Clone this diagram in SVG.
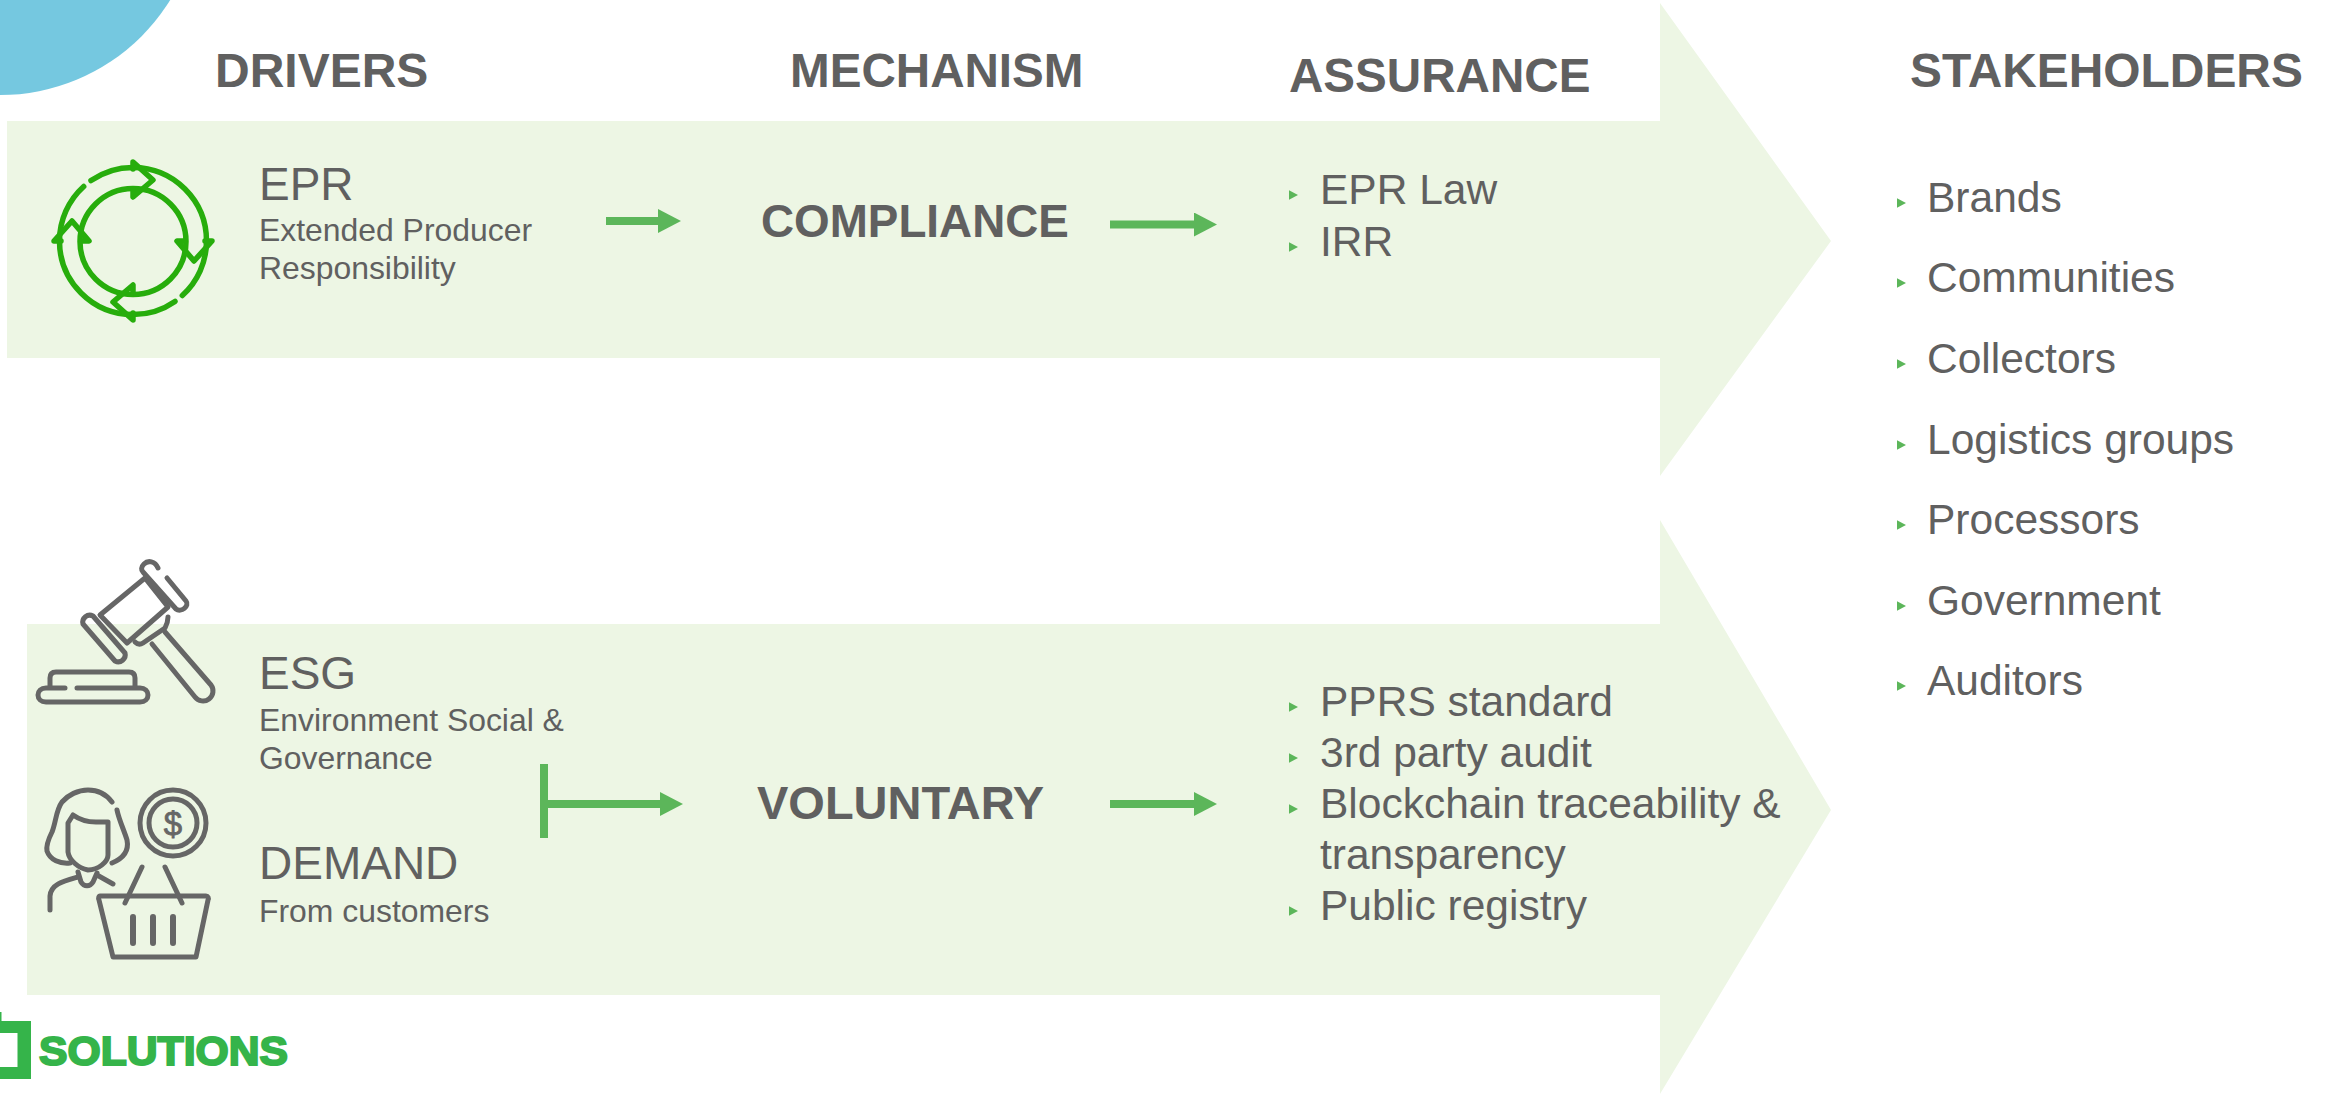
<svg xmlns="http://www.w3.org/2000/svg" xmlns:xlink="http://www.w3.org/1999/xlink" width="2333" height="1094" viewBox="0 0 2333 1094">
<style>
text{font-family:"Liberation Sans",Arial,sans-serif;fill:#606060}
.h{font-size:47.6px;font-weight:700}
.m{font-size:47px;font-weight:700}
.t{font-size:46px}
.s{font-size:31.9px}
.l{font-size:42.5px}
.band{fill:#edf6e4}
.ln{fill:none;stroke:#5cb65a;stroke-width:8}
.hd{fill:#5cb65a}
.ic{fill:none;stroke:#666;stroke-width:5;stroke-linecap:round;stroke-linejoin:round}
.rc{fill:none;stroke:#27ad0c;stroke-width:5.5;stroke-linecap:round;stroke-linejoin:round}
</style>
<defs>
<polygon id="b" class="hd" points="0,-4.7 9,0 0,4.7"/>
<marker id="ah" markerUnits="userSpaceOnUse" markerWidth="24" markerHeight="24" refX="1" refY="12" orient="auto"><polygon class="hd" points="0,0 23,12 0,24"/></marker>
<path id="chev" class="rc" d="M133,169V162L153,180L133,197V189"/>
</defs>
<rect width="2333" height="1094" fill="#fff"/>
<circle id="corner" cx="0" cy="-105" r="200" fill="#75c8e0"/>
<g id="band-compliance"><polygon class="band" points="7,121 1660,121 1660,3 1831,241 1660,476 1660,358 7,358"/></g>
<g id="band-voluntary"><polygon class="band" points="27,624 1660,624 1660,520 1831,810 1660,1094 1660,995 27,995"/></g>

<g id="headers">
<text class="h" x="215" y="87" style="font-size:48px">DRIVERS</text>
<text class="h" x="790" y="87">MECHANISM</text>
<text class="h" x="1289" y="92">ASSURANCE</text>
<text class="h" x="1910" y="87" style="font-size:47.9px">STAKEHOLDERS</text>
</g>

<g id="node-epr">
<g id="icon-cycle">
<path class="rc" d="M91,180.600A73.500,73.500 0 0 1 133,167.500"/>
<path class="rc" d="M83.700,186.500A73.500,73.500 0 0 0 59.500,241"/>
<path class="rc" d="M133,167.500A73.500,73.500 0 0 1 206.500,241A73.500,73.500 0 0 1 182.300,295.500"/>
<path class="rc" d="M175,301.400A73.500,73.500 0 0 1 133,314.500A73.500,73.500 0 0 1 59.500,241"/>
<circle class="rc" cx="133" cy="241.500" r="53"/>
<use xlink:href="#chev" href="#chev"/>
<use xlink:href="#chev" href="#chev" transform="rotate(90 133 241)"/>
<use xlink:href="#chev" href="#chev" transform="rotate(180 133 241)"/>
<use xlink:href="#chev" href="#chev" transform="rotate(270 133 241)"/>
</g>
<text class="t" x="259" y="200">EPR</text>
<text class="s" x="259" y="241">Extended Producer</text>
<text class="s" x="259" y="279">Responsibility</text>
</g>

<g id="node-esg">
<g id="icon-gavel" class="ic">
<path d="M145,578L100,615L127,643L168,607Z"/>
<path d="M158,568C155,561 148,560 144,564C141,567 141,570 143,572L176,609C181,613 190,606 186,601L167,578"/>
<path d="M93,616L125,653A7,7 0 0 1 115,661L83,624A7,7 0 0 1 93,616Z"/>
<path d="M168,617C168,622 167,624 165,628L143,643C140,645 137,644 135,642"/>
<path d="M152,644L195,697A10,10 0 0 0 211,685L165,632"/>
<path d="M50,686V678C50,674 52,672 56,672H129C133,672 135,674 135,678V687"/>
<path d="M65,688H46C41,688 38,691 38,695C38,699 41,702 46,702H140C145,702 148,699 148,695C148,691 145,688 140,688H77"/>
</g>
<text class="t" x="259" y="689">ESG</text>
<text class="s" x="259" y="731">Environment Social &amp;</text>
<text class="s" x="259" y="769">Governance</text>
</g>

<g id="node-demand">
<g id="icon-customer" class="ic">
<circle cx="173" cy="823" r="33"/>
<circle cx="173" cy="823" r="24"/>
<path d="M112,802C106,794 98,790 88,790C78,790 68,795 62,802C56,810 56,822 52,832C48,840 46,846 47,851C50,860 60,864 70,863"/>
<path d="M117,810C119,820 124,830 127,840C129,850 124,858 112,863"/>
<path d="M68,823V852C69,860 78,868 88,870C98,870 108,862 108,855V822H96C88,822 80,820 73,815L68,823Z"/>
<path d="M78,872L81,882C84,887 90,887 93,882L97,873"/>
<path d="M50,910V896C51,884 64,881 78,877M97,875L113,884"/>
<path d="M100,896H206C208,896 209,898 208,900L196,957H113L99,900C98,898 99,896 100,896Z"/>
<path d="M125,903L142,867M182,903L165,867"/>
<path d="M133,917V943M153,917V943M173,917V943" stroke-width="6"/>
</g>
<text x="173" y="835" text-anchor="middle" font-size="33" id="coin-sign" style="fill:#666;stroke:#666;stroke-width:.8">$</text>
<text class="t" x="259" y="879">DEMAND</text>
<text class="s" x="259" y="922">From customers</text>
</g>

<g id="node-compliance"><text class="m" x="761" y="237" style="font-size:45.8px">COMPLIANCE</text></g>
<g id="node-voluntary"><text class="m" x="757" y="819">VOLUNTARY</text></g>

<g id="node-assurance-epr">
<use xlink:href="#b" href="#b" x="1289" y="195"/>
<use xlink:href="#b" href="#b" x="1289" y="247"/>
<text class="l" x="1320" y="204">EPR Law</text>
<text class="l" x="1320" y="256">IRR</text>
</g>

<g id="node-assurance-voluntary">
<use xlink:href="#b" href="#b" x="1289" y="707"/>
<use xlink:href="#b" href="#b" x="1289" y="758"/>
<use xlink:href="#b" href="#b" x="1289" y="809"/>
<use xlink:href="#b" href="#b" x="1289" y="911"/>
<text class="l" x="1320" y="716">PPRS standard</text>
<text class="l" x="1320" y="767">3rd party audit</text>
<text class="l" x="1320" y="818">Blockchain traceability &amp;</text>
<text class="l" x="1320" y="869">transparency</text>
<text class="l" x="1320" y="920">Public registry</text>
</g>

<g id="node-stakeholders">
<use xlink:href="#b" href="#b" x="1897" y="203"/>
<use xlink:href="#b" href="#b" x="1897" y="283"/>
<use xlink:href="#b" href="#b" x="1897" y="364"/>
<use xlink:href="#b" href="#b" x="1897" y="445"/>
<use xlink:href="#b" href="#b" x="1897" y="525"/>
<use xlink:href="#b" href="#b" x="1897" y="606"/>
<use xlink:href="#b" href="#b" x="1897" y="686"/>
<text class="l" x="1927" y="212">Brands</text>
<text class="l" x="1927" y="292">Communities</text>
<text class="l" x="1927" y="373">Collectors</text>
<text class="l" x="1927" y="454">Logistics groups</text>
<text class="l" x="1927" y="534">Processors</text>
<text class="l" x="1927" y="615">Government</text>
<text class="l" x="1927" y="695">Auditors</text>
</g>

<g id="logo">
<path fill="#35b44a" fill-rule="evenodd" d="M0,1012H1.500V1021H31V1079H0ZM0,1033V1067H17.500V1033Z"/>
<text x="39" y="1065" font-size="41" style="font-weight:700;fill:#35b44a;stroke:#35b44a;stroke-width:2" textLength="249" lengthAdjust="spacingAndGlyphs">SOLUTIONS</text>
</g>

<g id="connectors">
<path class="ln" d="M606,221H659" marker-end="url(#ah)"/>
<path class="ln" d="M1110,224.500H1195" marker-end="url(#ah)"/>
<path class="ln" d="M544,804H661" marker-end="url(#ah)"/>
<path class="ln" d="M544,764V838"/>
<path class="ln" d="M1110,804H1195" marker-end="url(#ah)"/>
</g>
</svg>
